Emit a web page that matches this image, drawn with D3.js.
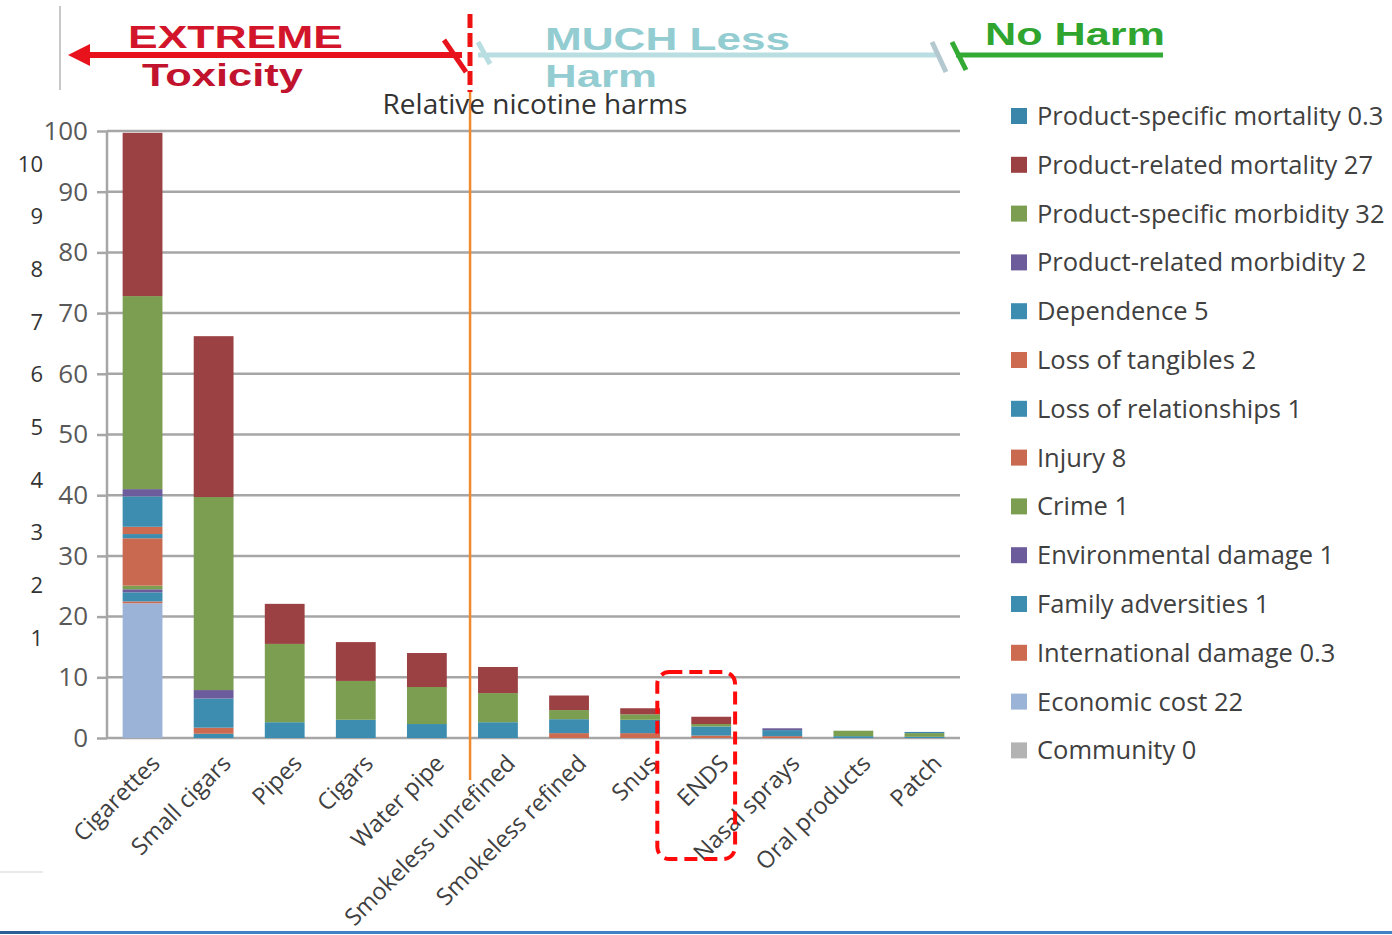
<!DOCTYPE html>
<html>
<head>
<meta charset="utf-8">
<script src="https://cdn.jsdelivr.net/npm/d3@7"></script>
<style>
  body { margin: 0; background: #fff; }
  svg { display: block; }
</style>
</head>
<body>
<div id="chart"></div>
<script>

// Categories along the x axis
const categories = [ 'Cigarettes', 'Small cigars', 'Pipes', 'Cigars', 'Water pipe', 'Smokeless unrefined',
  'Smokeless refined', 'Snus', 'ENDS', 'Nasal sprays', 'Oral products', 'Patch' ];

// Series, bottom of the stack first
const seriesNames = [ 'Community 0', 'Economic cost 22', 'International damage 0.3', 'Family adversities 1',
  'Environmental damage 1', 'Crime 1', 'Injury 8', 'Loss of relationships 1', 'Loss of tangibles 2',
  'Dependence 5', 'Product-related morbidity 2', 'Product-specific morbidity 32',
  'Product-related mortality 27', 'Product-specific mortality 0.3' ];

const community        = [ 0, 0, 0, 0, 0, 0, 0, 0, 0, 0, 0, 0 ];
const economicCost     = [ 22.2, 0, 0, 0, 0, 0, 0, 0, 0, 0, 0, 0 ];
const internationalDmg = [ 0.3, 0, 0, 0, 0, 0, 0, 0, 0, 0, 0, 0 ];
const familyAdversity  = [ 1.5, 0.7, 0, 0, 0, 0, 0, 0, 0, 0, 0, 0 ];
const environmental    = [ 0.5, 0, 0, 0, 0, 0, 0, 0, 0, 0, 0, 0 ];
const crime            = [ 0.6, 0, 0, 0, 0, 0, 0, 0, 0, 0, 0, 0 ];
const injury           = [ 7.8, 0, 0, 0, 0, 0, 0, 0, 0, 0, 0, 0 ];
const lossRelations    = [ 0.7, 0, 0, 0, 0, 0, 0, 0, 0, 0, 0, 0 ];
const lossTangibles    = [ 1.2, 1.0, 0, 0, 0, 0, 0.8, 0.8, 0.4, 0.3, 0, 0 ];
const dependence       = [ 5.0, 4.8, 2.6, 3.0, 2.3, 2.6, 2.3, 2.2, 1.5, 1.0, 0.3, 0.2 ];
const relMorbidity     = [ 1.2, 1.4, 0, 0, 0, 0, 0, 0, 0, 0.3, 0, 0 ];
const specMorbidity    = [ 31.8, 31.8, 12.9, 6.4, 6.1, 4.8, 1.5, 0.9, 0.4, 0, 0.9, 0.6 ];
const relMortality     = [ 26.9, 26.5, 6.6, 6.4, 5.6, 4.3, 2.4, 1.0, 1.2, 0, 0, 0 ];
const specMortality    = [ 0, 0, 0, 0, 0, 0, 0, 0, 0, 0, 0, 0.2 ];

const seriesValues = [ community, economicCost, internationalDmg, familyAdversity, environmental, crime,
  injury, lossRelations, lossTangibles, dependence, relMorbidity, specMorbidity, relMortality, specMortality ];

const seriesColors = [ '#b3b3b3', '#9bb3d6', '#cc6b50', '#3c8db0', '#6c5c9b', '#7b9e50', '#c9694f',
  '#3c8db0', '#cc6b50', '#3c8db0', '#6c5c9b', '#7b9e50', '#9c4143', '#3a86ab' ];

const yTicks = [ 0, 10, 20, 30, 40, 50, 60, 70, 80, 90, 100 ];
const ghostTicks = [ 1, 2, 3, 4, 5, 6, 7, 8, 9, 10 ];

const figure_width = 1392;
const figure_height = 935;
const plot = { left: 107, right: 960, top: 131, bottom: 738 };

const labelFont = 'font-family:"Open Sans"; fill:#404040;';

const svg = d3.select( 'div#chart' )
  .append( 'svg' )
    .attr( 'width', figure_width )
    .attr( 'height', figure_height );

// build rows for d3.stack
const rows = categories.map( function( c, i ) {
  const row = { category: c };
  seriesNames.forEach( function( s, j ) { row[ s ] = seriesValues[ j ][ i ]; } );
  return row;
});
const stacked = d3.stack().keys( seriesNames )( rows );

const x = d3.scaleBand()
  .domain( categories )
  .range( [ plot.left, plot.right ] )
  .paddingInner( 0.44 )
  .paddingOuter( 0.22 );

const y = d3.scaleLinear()
  .domain( [ 0, 100 ] )
  .range( [ plot.bottom, plot.top ] );

const color = d3.scaleOrdinal()
  .domain( seriesNames )
  .range( seriesColors );

// gridlines + y axis
const yAxis = svg.append( 'g' )
  .attr( 'transform', 'translate(' + plot.left + ',0)' )
  .call( d3.axisLeft( y ).tickValues( yTicks ).tickSize( 10 ).tickPadding( 9 ) );
yAxis.select( '.domain' ).remove();
yAxis.selectAll( '.tick line' ).attr( 'stroke', '#a6a6a6' ).attr( 'stroke-width', 2.5 );
yAxis.selectAll( '.tick text' )
  .attr( 'style', 'font-family:"Open Sans"; font-size:26px; fill:#595959;' );

svg.append( 'g' )
  .selectAll( 'line' )
  .data( yTicks )
  .enter()
  .append( 'line' )
    .attr( 'x1', plot.left )
    .attr( 'x2', plot.right )
    .attr( 'y1', function( d ) { return y( d ); } )
    .attr( 'y2', function( d ) { return y( d ); } )
    .attr( 'stroke', '#a6a6a6' )
    .attr( 'stroke-width', 2.5 );

svg.append( 'line' )
  .attr( 'x1', plot.left ).attr( 'x2', plot.left )
  .attr( 'y1', plot.top ).attr( 'y2', plot.bottom )
  .attr( 'stroke', '#a6a6a6' ).attr( 'stroke-width', 2.5 );

// the left-over scale from an underlying picture (1..10)
const ghost = d3.scaleLinear().domain( [ 1, 10 ] ).range( [ 638, 164 ] );
svg.append( 'g' )
  .selectAll( 'text' )
  .data( ghostTicks )
  .enter()
  .append( 'text' )
    .attr( 'x', 43 )
    .attr( 'y', function( d ) { return ghost( d ); } )
    .attr( 'dy', '0.35em' )
    .attr( 'text-anchor', 'end' )
    .attr( 'style', 'font-family:"Open Sans"; font-size:22px; fill:#333;' )
    .text( function( d ) { return d; } );

// stacked bars
svg.append( 'g' )
  .selectAll( 'g' )
  .data( stacked )
  .enter()
  .append( 'g' )
    .attr( 'fill', function( d ) { return color( d.key ); } )
  .selectAll( 'rect' )
  .data( function( d ) { return d; } )
  .enter()
  .append( 'rect' )
    .attr( 'x', function( d ) { return x( d.data.category ); } )
    .attr( 'y', function( d ) { return y( d[1] ); } )
    .attr( 'width', x.bandwidth() )
    .attr( 'height', function( d ) { return y( d[0] ) - y( d[1] ); } );

// x labels, rotated
svg.append( 'g' )
  .selectAll( 'text' )
  .data( categories )
  .enter()
  .append( 'text' )
    .attr( 'transform', function( d ) {
      return 'translate(' + ( x( d ) + x.bandwidth() / 2 + 13 ) + ',' + ( plot.bottom + 21 ) + ') rotate(-45)';
    })
    .attr( 'text-anchor', 'end' )
    .attr( 'dy', '0.35em' )
    .attr( 'style', labelFont + ' font-size:23.5px;' )
    .text( function( d ) { return d; } );

// orange divider between the extreme and the less harmful products
const dividerX = x( 'Smokeless unrefined' ) - 8;
svg.append( 'line' )
  .attr( 'x1', dividerX ).attr( 'x2', dividerX )
  .attr( 'y1', 92 ).attr( 'y2', 780 )
  .attr( 'stroke', '#f08a2e' ).attr( 'stroke-width', 2.5 );

svg.append( 'text' )
  .attr( 'x', 535 )
  .attr( 'y', 114 )
  .attr( 'text-anchor', 'middle' )
  .attr( 'style', 'font-family:"Open Sans"; font-size:28px; fill:#333;' )
  .text( 'Relative nicotine harms' );

// banner at the top
const banner = svg.append( 'g' );
banner.append( 'line' )
  .attr( 'x1', 60 ).attr( 'x2', 60 ).attr( 'y1', 6 ).attr( 'y2', 90 )
  .attr( 'stroke', '#c8c8c8' ).attr( 'stroke-width', 2 );

// red arrow
banner.append( 'line' )
  .attr( 'x1', 84 ).attr( 'x2', 462 ).attr( 'y1', 55 ).attr( 'y2', 55 )
  .attr( 'stroke', '#e8121c' ).attr( 'stroke-width', 6 );
banner.append( 'path' )
  .attr( 'd', 'M68,55 L90,44 L90,66 Z' )
  .attr( 'fill', '#e8121c' );
banner.append( 'line' )
  .attr( 'x1', 444 ).attr( 'x2', 466 ).attr( 'y1', 40 ).attr( 'y2', 72 )
  .attr( 'stroke', '#e8121c' ).attr( 'stroke-width', 5 );

// teal arrow
banner.append( 'line' )
  .attr( 'x1', 478 ).attr( 'x2', 936 ).attr( 'y1', 55 ).attr( 'y2', 55 )
  .attr( 'stroke', '#b9dee2' ).attr( 'stroke-width', 5 );
banner.append( 'line' )
  .attr( 'x1', 478 ).attr( 'x2', 490 ).attr( 'y1', 42 ).attr( 'y2', 64 )
  .attr( 'stroke', '#b9dee2' ).attr( 'stroke-width', 5 );
banner.append( 'line' )
  .attr( 'x1', 932 ).attr( 'x2', 946 ).attr( 'y1', 42 ).attr( 'y2', 72 )
  .attr( 'stroke', '#b4c8cf' ).attr( 'stroke-width', 5 );

// green line
banner.append( 'line' )
  .attr( 'x1', 956 ).attr( 'x2', 1163 ).attr( 'y1', 55 ).attr( 'y2', 55 )
  .attr( 'stroke', '#33aa33' ).attr( 'stroke-width', 5 );
banner.append( 'line' )
  .attr( 'x1', 952 ).attr( 'x2', 966 ).attr( 'y1', 42 ).attr( 'y2', 70 )
  .attr( 'stroke', '#33aa33' ).attr( 'stroke-width', 5 );

// red dashed divider
banner.append( 'line' )
  .attr( 'x1', 470 ).attr( 'x2', 470 ).attr( 'y1', 14 ).attr( 'y2', 92 )
  .attr( 'stroke', '#ee1111' ).attr( 'stroke-width', 5 )
  .attr( 'stroke-dasharray', '14,5' );

const bannerFont = 'font-family:"Liberation Sans"; font-weight:bold; font-size:32px;';
const bannerTexts = [
  { t: 'EXTREME', x: 128, y: 48, w: 215, c: '#d3152b' },
  { t: 'Toxicity', x: 142, y: 86, w: 161, c: '#c1122e' },
  { t: 'MUCH Less', x: 545, y: 50, w: 245, c: '#93ccd1' },
  { t: 'Harm', x: 545, y: 87, w: 112, c: '#93ccd1' },
  { t: 'No Harm', x: 985, y: 45, w: 180, c: '#2fa52f' }
];
banner.selectAll( 'text' )
  .data( bannerTexts )
  .enter()
  .append( 'text' )
    .attr( 'x', function( d ) { return d.x; } )
    .attr( 'y', function( d ) { return d.y; } )
    .attr( 'textLength', function( d ) { return d.w; } )
    .attr( 'lengthAdjust', 'spacingAndGlyphs' )
    .attr( 'style', function( d ) { return bannerFont + ' fill:' + d.c + ';'; } )
    .text( function( d ) { return d.t; } );

// red dashed box around ENDS
const endsX = x( 'ENDS' );
svg.append( 'rect' )
  .attr( 'x', endsX - 34 )
  .attr( 'y', 672 )
  .attr( 'width', x.bandwidth() + 38 )
  .attr( 'height', 187 )
  .attr( 'rx', 12 )
  .attr( 'fill', 'none' )
  .attr( 'stroke', '#ff0a0a' )
  .attr( 'stroke-width', 4 )
  .attr( 'stroke-dasharray', '13,7' );

// legend, top entry = top of the stack
const legendKeys = seriesNames.slice().reverse();
const legend = svg.append( 'g' );
legend.selectAll( 'rect' )
  .data( legendKeys )
  .enter()
  .append( 'rect' )
    .attr( 'x', 1011 )
    .attr( 'y', function( d, i ) { return 108 + i * 48.8; } )
    .attr( 'width', 16 )
    .attr( 'height', 16 )
    .attr( 'fill', function( d ) { return color( d ); } );
legend.selectAll( 'text' )
  .data( legendKeys )
  .enter()
  .append( 'text' )
    .attr( 'x', 1037 )
    .attr( 'y', function( d, i ) { return 116 + i * 48.8; } )
    .attr( 'dy', '0.35em' )
    .attr( 'style', labelFont + ' font-size:25.5px;' )
    .text( function( d ) { return d; } );

// page edges from the screenshot
svg.append( 'line' )
  .attr( 'x1', 0 ).attr( 'x2', 43 ).attr( 'y1', 872 ).attr( 'y2', 872 )
  .attr( 'stroke', '#e2e2e2' ).attr( 'stroke-width', 1.5 );
svg.append( 'rect' )
  .attr( 'x', 0 ).attr( 'y', 931 ).attr( 'width', figure_width ).attr( 'height', 3 )
  .attr( 'fill', '#3f83c6' );
svg.append( 'rect' )
  .attr( 'x', 0 ).attr( 'y', 931 ).attr( 'width', 40 ).attr( 'height', 3 )
  .attr( 'fill', '#2a5e96' );

</script>
</body>
</html>
